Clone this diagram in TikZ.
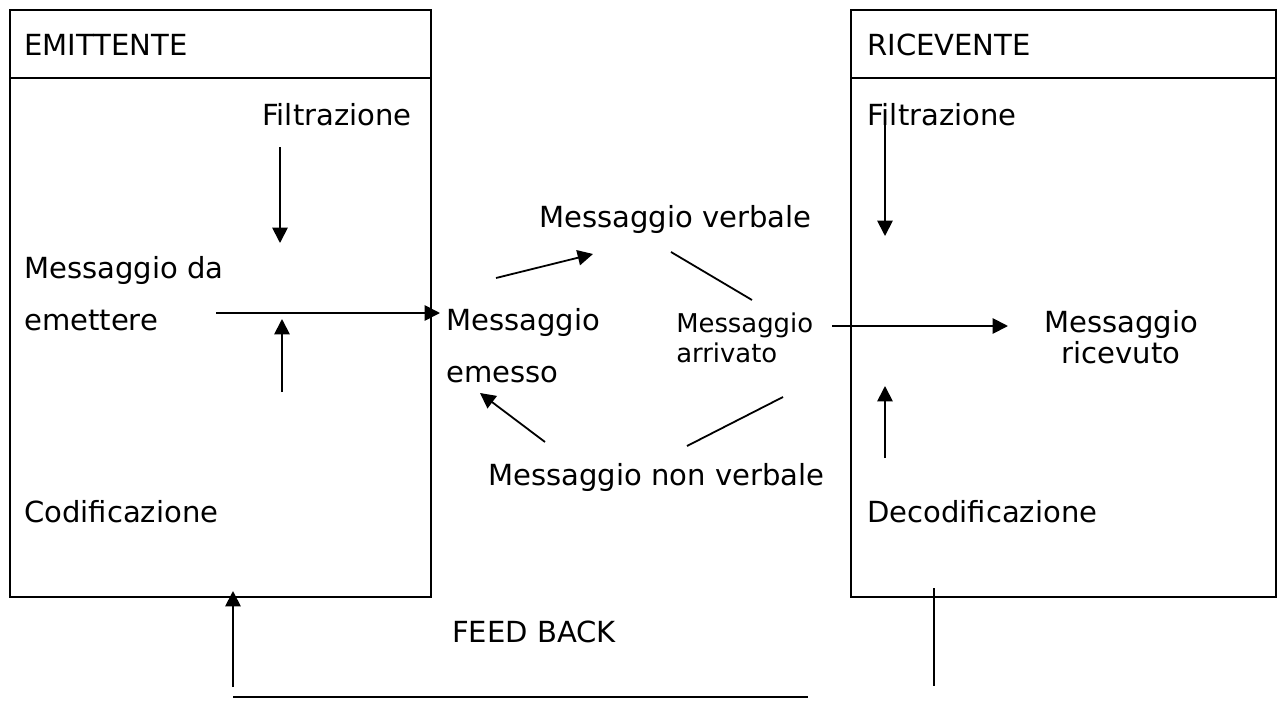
\documentclass[tikz,border=0pt]{standalone}
\usepackage{fontspec}
\setmainfont{DejaVu Sans}
\usetikzlibrary{arrows.meta}
\begin{document}
\begin{tikzpicture}[x=0.75pt,y=-0.75pt,
  txt/.style={anchor=base west,inner sep=0pt,font=\fontsize{21.8pt}{25pt}\selectfont},
  ctxt/.style={anchor=base,inner sep=0pt,font=\fontsize{21.8pt}{25pt}\selectfont},
  smalltxt/.style={anchor=base west,inner sep=0pt,font=\fontsize{19.4pt}{23pt}\selectfont},
  boxline/.style={line width=1.8pt},
  arr/.style={line width=1.35pt,-{Triangle[length=11.5pt,width=11.5pt]}},
  plain/.style={line width=1.35pt}]
\useasboundingbox (0,0) rectangle (1282,700);
% boxes
\draw[boxline] (10,10) rectangle (431,597);
\draw[boxline] (10,78) -- (431,78);
\draw[boxline] (851,10) rectangle (1276,597);
\draw[boxline] (851,78) -- (1276,78);
% texts
\node[txt] (emit) at (24,55) {EMITTENTE};
\node[txt] (ric) at (867,55) {RICEVENTE};
\node[txt] (filtE) at (262,125) {Filtrazione};
\node[txt] (filtR) at (867,125) {Filtrazione};
\node[txt] (mda1) at (24,278) {Messaggio da};
\node[txt] (mda2) at (24,330) {emettere};
\node[txt] (cod) at (24,522) {Codificazione};
\node[txt] (mv) at (539,227) {Messaggio verbale};
\node[txt] (me1) at (446,330) {Messaggio};
\node[txt] (me2) at (446,382) {emesso};
\node[smalltxt] (ma1) at (676,332) {Messaggio};
\node[smalltxt] (ma2) at (676,362) {arrivato};
\node[txt] (mnv) at (488,485) {Messaggio non verbale};
\node[ctxt] (mr1) at (1121,332) {Messaggio};
\node[ctxt] (mr2) at (1121,363) {ricevuto};
\node[txt] (dec) at (867,522) {Decodificazione};
\node[txt] (fb) at (452,642) {FEED BACK};
% connector end points
\coordinate (a1s) at (280,147); \coordinate (a1e) at (280,243);
\coordinate (a2s) at (282,392); \coordinate (a2e) at (282,319);
\coordinate (a3s) at (216,313); \coordinate (a3e) at (440,313);
\coordinate (a4s) at (496,278); \coordinate (a4e) at (593,254);
\coordinate (l1s) at (671,252); \coordinate (l1e) at (752,300);
\coordinate (a5s) at (545,442); \coordinate (a5e) at (480,393);
\coordinate (l2s) at (687,446); \coordinate (l2e) at (783,397);
\coordinate (a6s) at (832,326); \coordinate (a6e) at (1008,326);
\coordinate (a7s) at (885,113); \coordinate (a7e) at (885,236);
\coordinate (a8s) at (885,458); \coordinate (a8e) at (885,386);
\coordinate (fbR1) at (934,588); \coordinate (fbR2) at (934,686);
\coordinate (fbL1) at (233,687); \coordinate (fbL2) at (233,591);
\coordinate (fbB1) at (233,697); \coordinate (fbB2) at (808,697);
% connectors
\draw[arr] (a1s) -- (a1e);
\draw[arr] (a2s) -- (a2e);
\draw[arr] (a3s) -- (a3e);
\draw[arr] (a4s) -- (a4e);
\draw[plain] (l1s) -- (l1e);
\draw[arr] (a5s) -- (a5e);
\draw[plain] (l2s) -- (l2e);
\draw[arr] (a6s) -- (a6e);
\draw[arr] (a7s) -- (a7e);
\draw[arr] (a8s) -- (a8e);
\draw[plain] (fbR1) -- (fbR2);
\draw[arr] (fbL1) -- (fbL2);
\draw[plain] (fbB1) -- (fbB2);
\end{tikzpicture}
\end{document}
